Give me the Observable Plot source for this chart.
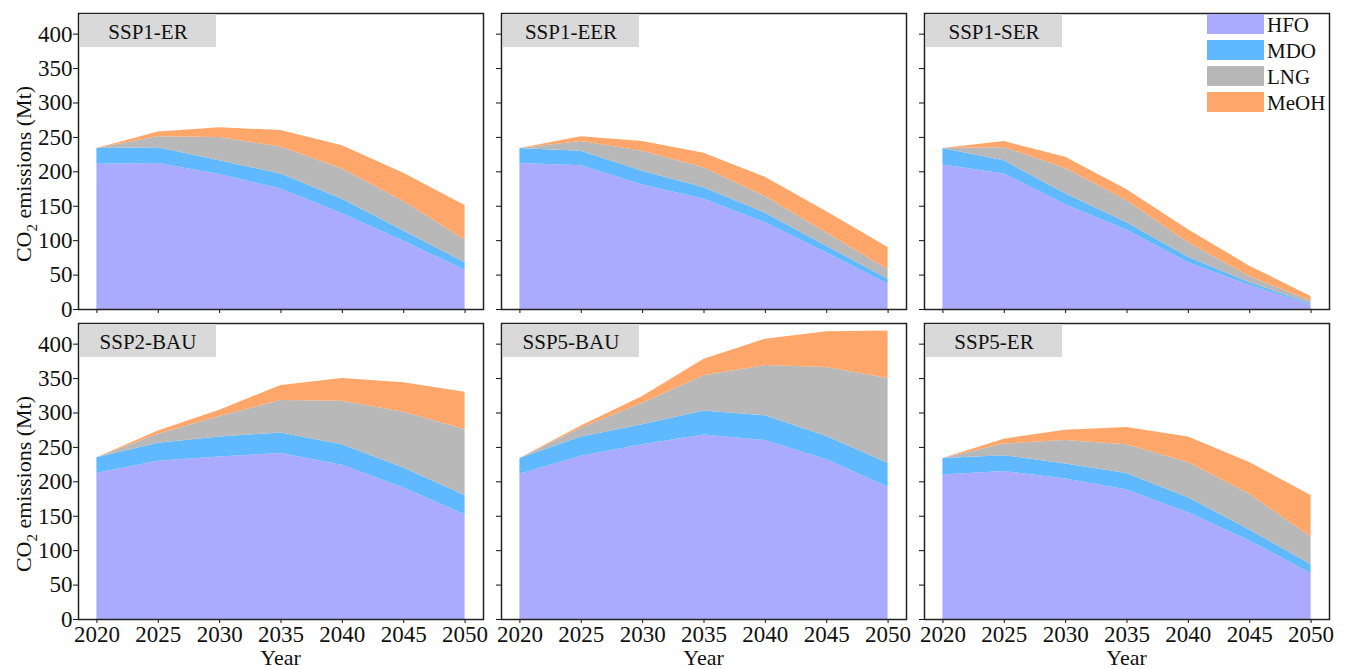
<!DOCTYPE html>
<html>
<head>
<meta charset="utf-8">
<script src="https://cdn.jsdelivr.net/npm/d3@7"></script>
<script src="https://cdn.jsdelivr.net/npm/@observablehq/plot@0.6"></script>
<style>
  html, body { margin: 0; padding: 0; background: #fff; }
  #chart { position: relative; width: 1347px; height: 669px; overflow: hidden; }
  #chart svg { position: absolute; overflow: visible; }
</style>
</head>
<body>
<div id="chart"></div>
<script>
// ---- data ----
const years = [2020, 2025, 2030, 2035, 2040, 2045, 2050];
const fuels = ["HFO", "MDO", "LNG", "MeOH"];
const fuelColors = ["#aaaaff", "#60b9ff", "#b8b8b8", "#ffa76b"];
const scenarios = ["SSP1-ER", "SSP1-EER", "SSP1-SER", "SSP2-BAU", "SSP5-BAU", "SSP5-ER"];
const yTicks = [0, 50, 100, 150, 200, 250, 300, 350, 400];

// values in Mt per fuel, one row per scenario (same order as scenarios)
const HFO = [
  [211, 212, 196, 175, 139, 99, 57],
  [212, 209, 181, 160, 126, 82, 37],
  [210, 197, 152, 115, 68, 35, 6],
  [212, 230, 236, 241, 224, 191, 152],
  [211, 237, 254, 268, 260, 232, 192],
  [210, 215, 204, 188, 155, 114, 67]
];
const MDO = [
  [23, 23, 20, 22, 21, 15, 11],
  [22, 21, 20, 17, 14, 10, 7],
  [24, 19, 16, 11, 8, 4, 2],
  [23, 26, 29, 30, 30, 29, 28],
  [23, 28, 29, 35, 36, 34, 35],
  [24, 23, 22, 24, 22, 16, 13]
];
const LNG = [
  [0, 16, 34, 39, 44, 43, 33],
  [0, 14, 29, 29, 24, 19, 14],
  [0, 19, 37, 32, 21, 9, 4],
  [0, 13, 30, 47, 63, 81, 96],
  [0, 13, 31, 51, 73, 100, 123],
  [0, 17, 34, 42, 51, 52, 40]
];
const MeOH = [
  [0, 7, 14, 24, 34, 41, 50],
  [0, 7, 14, 21, 28, 31, 32],
  [0, 9, 16, 16, 19, 15, 7],
  [0, 5, 9, 22, 33, 43, 54],
  [0, 3, 10, 24, 38, 52, 69],
  [0, 7, 15, 25, 37, 46, 60]
];
const series = [HFO, MDO, LNG, MeOH];

// ---- layout ----
const chart = document.getElementById("chart");
const frameLeft = [78, 501, 924];
const frameTop = [13, 323];
const W = 405, H = 296;
const FONT = "Liberation Serif";

function panel(i) {
  const r = Math.floor(i / 3), c = i % 3;
  const ml = c === 0 ? 78 : 8, mr = 2;
  const mt = r === 0 ? 13 : 3, mb = r === 0 ? 6 : 49;
  const rows = [];
  fuels.forEach((f, k) => years.forEach((y, j) => rows.push({year: y, fuel: f, value: series[k][i][j]})));

  const svg = Plot.plot({
    width: ml + W + mr,
    height: mt + H + mb,
    marginLeft: ml, marginRight: mr, marginTop: mt, marginBottom: mb,
    style: {"font-family": FONT, "font-size": "23px", "color": "#111", "background": "transparent", "overflow": "visible"},
    x: {domain: [2018.5, 2051.5]},
    y: {domain: [0, 430]},
    color: {domain: fuels, range: fuelColors},
    marks: [
      Plot.areaY(rows, {x: "year", y: "value", fill: "fuel"}),
      Plot.axisX({ticks: years, tickSize: 4, tickPadding: 2, fontSize: 23, fontFamily: FONT,
                  tickFormat: r === 1 ? "d" : () => "", label: null}),
      Plot.axisY({ticks: yTicks, tickSize: 5, tickPadding: 1, fontSize: 23, fontFamily: FONT,
                  tickFormat: c === 0 ? "d" : () => "", label: null}),
      Plot.frame({stroke: "#222", strokeWidth: 1.5})
    ]
  });
  svg.style.left = (frameLeft[c] - ml) + "px";
  svg.style.top = (frameTop[r] - mt) + "px";

  const s = d3.select(svg);
  // panel label box
  const g = s.append("g").attr("font-family", FONT).attr("font-size", 21).attr("fill", "#111");
  g.append("rect").attr("x", ml + 2).attr("y", mt + 1).attr("width", 136).attr("height", 33).attr("fill", "#d9d9d9");
  g.append("text").attr("x", ml + 2 + 68).attr("y", mt + 26).attr("text-anchor", "middle").text(scenarios[i]);

  // y axis title
  if (c === 0) {
    const t = s.append("text")
      .attr("transform", `translate(31,${mt + H / 2 + 13}) rotate(-90)`)
      .attr("text-anchor", "middle").attr("font-family", FONT).attr("font-size", 22).attr("fill", "#111");
    t.append("tspan").text("CO");
    t.append("tspan").attr("dy", 6).attr("font-size", 15).text("2");
    t.append("tspan").attr("dy", -6).text(" emissions (Mt)");
  }
  // x axis title
  if (r === 1) {
    s.append("text").attr("x", ml + W / 2).attr("y", mt + H + 46).attr("text-anchor", "middle")
      .attr("font-family", FONT).attr("font-size", 22).attr("fill", "#111").text("Year");
  }
  // legend
  if (i === 2) {
    const lg = s.append("g").attr("font-family", FONT).attr("font-size", 21).attr("fill", "#111")
      .attr("text-anchor", "start");
    fuels.forEach((f, k) => {
      lg.append("rect").attr("x", ml + W - 122).attr("y", mt + 1 + k * 26).attr("width", 57).attr("height", 20)
        .attr("fill", fuelColors[k]);
      lg.append("text").attr("x", ml + W - 62).attr("y", mt + 19 + k * 26).attr("text-anchor", "start").text(f);
    });
  }
  chart.appendChild(svg);
}
scenarios.forEach((_, i) => panel(i));
</script>
</body>
</html>
